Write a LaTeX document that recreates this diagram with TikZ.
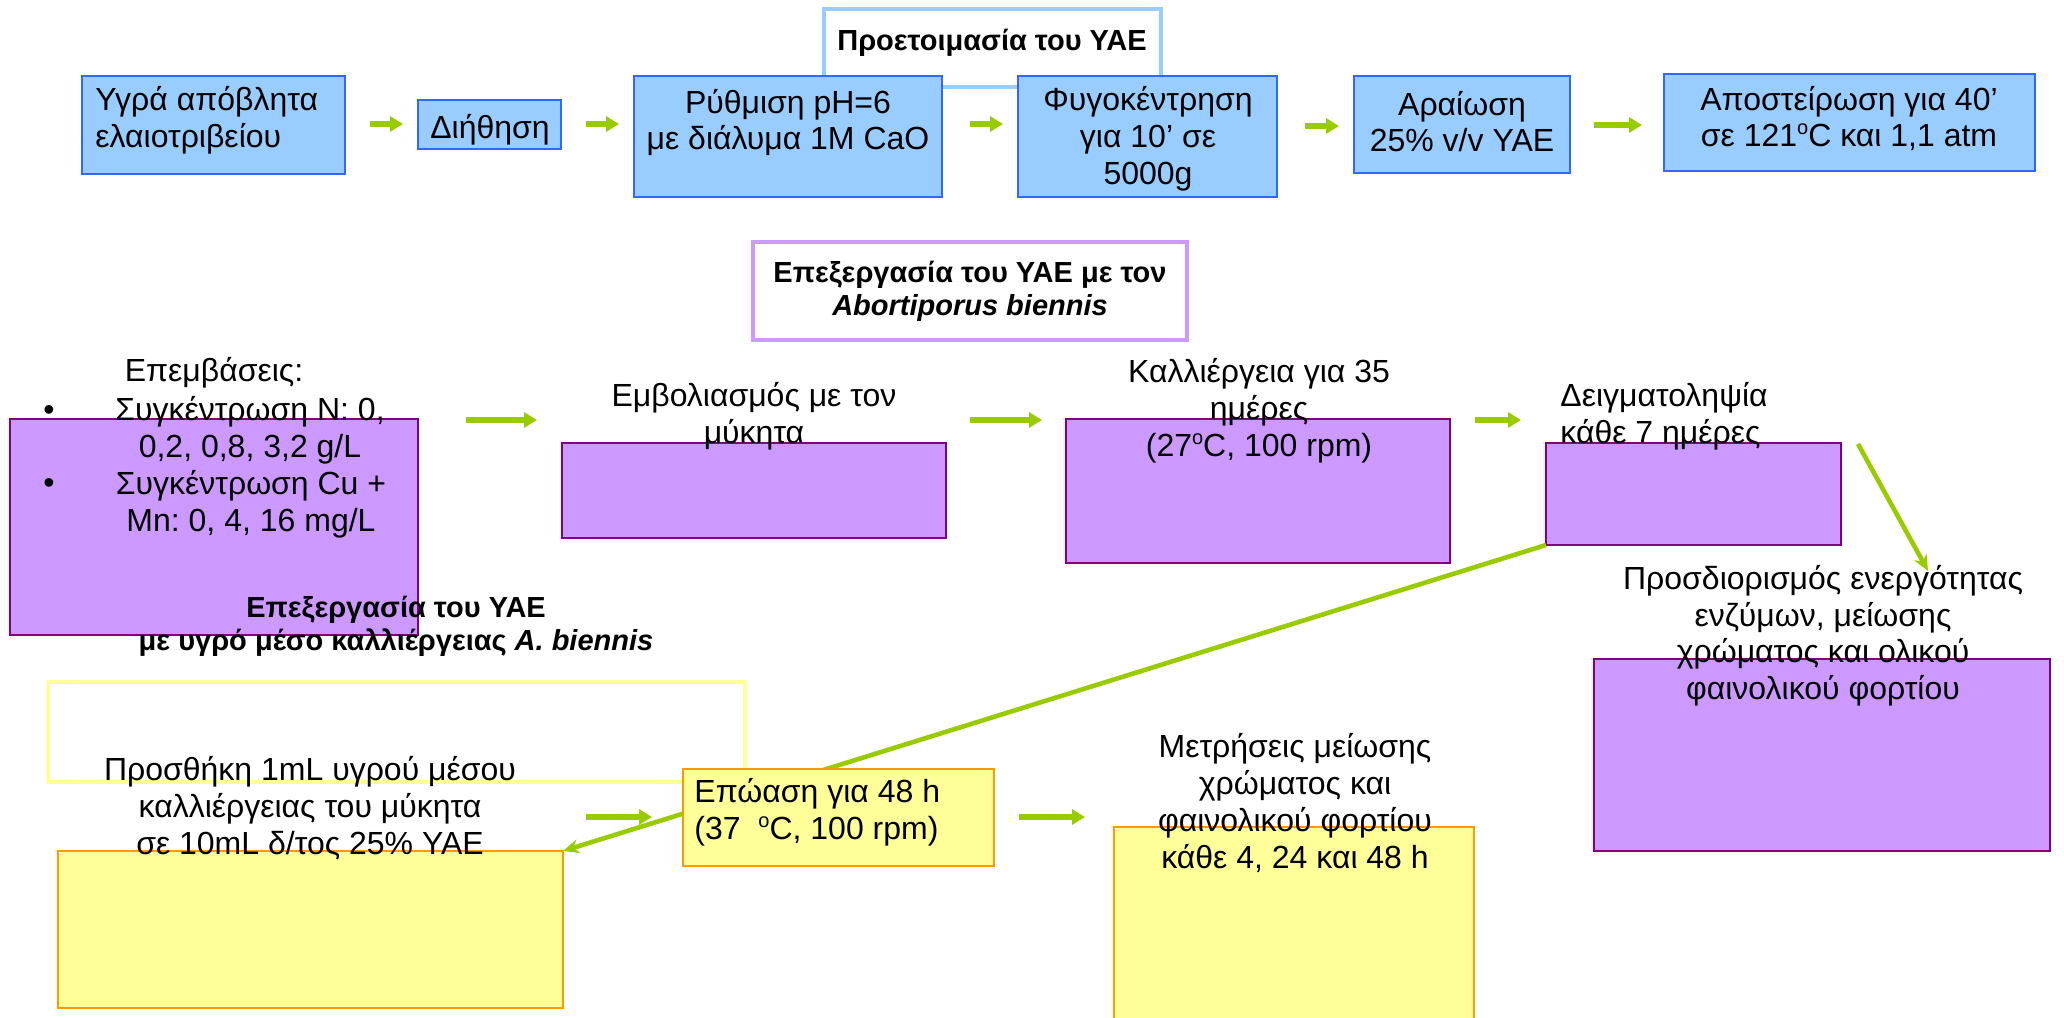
\documentclass[tikz,border=0pt]{standalone}
\usepackage{fontspec}
\setmainfont{Liberation Sans}
\usetikzlibrary{arrows.meta,fit}
\definecolor{bfill}{RGB}{153,204,255}
\definecolor{bline}{RGB}{51,102,255}
\definecolor{pfill}{RGB}{204,153,255}
\definecolor{pline}{RGB}{128,0,128}
\definecolor{yfill}{RGB}{255,255,153}
\definecolor{yline}{RGB}{255,153,0}
\definecolor{tyline}{RGB}{255,255,153}
\definecolor{tbline}{RGB}{153,204,255}
\definecolor{tpline}{RGB}{204,153,255}
\definecolor{agreen}{RGB}{153,204,0}
\newcommand{\dego}{\raisebox{0.38em}{\fontsize{10}{10}\selectfont o}}
\frenchspacing
\begin{document}
\begin{tikzpicture}[x=0.5pt,y=-0.5pt,
  box/.style={inner sep=0pt, outer sep=0pt, line width=1pt},
  bluebox/.style={box, draw=bline, fill=bfill},
  purplebox/.style={box, draw=pline, fill=pfill},
  yellowbox/.style={box, draw=yline, fill=yfill},
  titlebox/.style={inner sep=0pt, outer sep=0pt, line width=2pt, fill=white},
  body/.style={inner sep=0pt, font=\frenchspacing\fontsize{16}{18.4}\selectfont, align=center},
  ttl/.style={inner sep=0pt, font=\frenchspacing\bfseries\fontsize{14.5}{16.7}\selectfont, align=center},
  sarrow/.style={draw=agreen, line width=2.6pt, -{Triangle[length=6.5pt,width=7.5pt]}},
  darrow/.style={draw=agreen, line width=2.3pt, -{Stealth[length=8pt,width=7pt]}},
]
\useasboundingbox (0,0) rectangle (2064,1017);
\clip (0,0) rectangle (2064,1017);

% top row
\node[titlebox, draw=tbline, fit={(824,9) (1161,87)}] (T1) {};
\node[bluebox, fit={(82,76) (345,174)}] (A1) {};
\node[bluebox, fit={(418,100) (561,149)}] (A2) {};
\node[bluebox, fit={(634,76) (942,197)}] (A3) {};
\node[bluebox, fit={(1018,76) (1277,197)}] (A4) {};
\node[bluebox, fit={(1354,76) (1570,173)}] (A5) {};
\node[bluebox, fit={(1664,74) (2035,171)}] (A6) {};

% titles of lower sections
\node[titlebox, draw=tpline, fit={(753,242) (1187,340)}] (T2) {};
\node[titlebox, draw=tyline, fit={(48,682) (745,782)}] (T3) {};

% purple row
\node[purplebox, fit={(10,419) (418,635)}] (P1) {};
\node[purplebox, fit={(562,443) (946,538)}] (P2) {};
\node[purplebox, fit={(1066,419) (1450,563)}] (P3) {};
\node[purplebox, fit={(1546,443) (1841,545)}] (P4) {};
\node[purplebox, fit={(1594,659) (2050,851)}] (P5) {};

% yellow row
\node[yellowbox, fit={(58,851) (563,1008)}] (Y1) {};
\node[yellowbox, fit={(1114,827) (1474,1030)}] (Y3) {};
\draw[darrow] (P4.south west) -- (Y1.north east);
\node[yellowbox, fit={(683,769) (994,866)}] (Y2) {};

\coordinate (d1s) at (1858,444);
\coordinate (d1e) at (1928,571);
\draw[darrow] (d1s) -- (d1e);

% short arrows
\coordinate (a1s) at (370,124);  \coordinate (a1e) at (403,124);
\coordinate (a2s) at (586,124);  \coordinate (a2e) at (619,124);
\coordinate (a3s) at (970,124);  \coordinate (a3e) at (1003,124);
\coordinate (a4s) at (1305,126); \coordinate (a4e) at (1339,126);
\coordinate (a5s) at (1594,125); \coordinate (a5e) at (1642,125);
\coordinate (p1s) at (466,420);  \coordinate (p1e) at (537,420);
\coordinate (p2s) at (970,420);  \coordinate (p2e) at (1042,420);
\coordinate (p3s) at (1475,420); \coordinate (p3e) at (1521,420);
\coordinate (y1s) at (586,817);  \coordinate (y1e) at (652,817);
\coordinate (y2s) at (1019,817); \coordinate (y2e) at (1085,817);
\foreach \s/\e in {a1s/a1e,a2s/a2e,a3s/a3e,a4s/a4e,a5s/a5e,p1s/p1e,p2s/p2e,p3s/p3e,y1s/y1e,y2s/y2e}
  \draw[sarrow] (\s) -- (\e);

% texts
\node[ttl] (tT1) at (992,43) {Προετοιμασία του ΥΑΕ};
\node[body, align=left, anchor=west] (tA1) at (95,120.5) {Υγρά απόβλητα\\ελαιοτριβείου};
\node[body] (tA2) at (490,130) {Διήθηση};
\node[body] (tA3) at (788,122.5) {Ρύθμιση pH=6\\με διάλυμα 1M CaO};
\node[body] (tA4) at (1148,138.7) {Φυγοκέντρηση\\για 10’ σε\\5000g};
\node[body] (tA5) at (1462,121.5) {Αραίωση\\25\% v/v ΥΑΕ};
\node[body] (tA6) at (1849,118.5) {Αποστείρωση για 40’\\σε 121\dego C και 1,1 atm};

\node[ttl] (tT2) at (970,291.5) {Επεξεργασία του ΥΑΕ με τον\\\textit{Abortiporus biennis}};

\node[body] (tP1) at (214,373) {Επεμβάσεις:};
\node[body] (bul1) at (49,413) {•};
\node[body] (bul2) at (49,486) {•};
\node[body] (tB1) at (250,430.5) {Συγκέντρωση Ν: 0,\\0,2, 0,8, 3,2 g/L};
\node[body] (tB2) at (251,504) {Συγκέντρωση Cu +\\Mn: 0, 4, 16 mg/L};
\node[body] (tP2) at (754,416.5) {Εμβολιασμός με τον\\μύκητα};
\node[body] (tP3) at (1259,410.7) {Καλλιέργεια για 35\\ημέρες\\(27\dego C, 100 rpm)};
\node[body, align=left, anchor=west] (tP4) at (1560,416.5) {Δειγματοληψία\\κάθε 7 ημέρες};
\node[body] (tP5) at (1823,635.75) {Προσδιορισμός ενεργότητας\\ενζύμων, μείωσης\\χρώματος και ολικού\\φαινολικού φορτίου};

\node[ttl] (tT3) at (396,626.5) {Επεξεργασία του ΥΑΕ\\με υγρό μέσο καλλιέργειας \textit{A. biennis}};
\node[body] (tY1) at (310,808.3) {Προσθήκη 1mL υγρού μέσου\\καλλιέργειας του μύκητα\\σε 10mL δ/τος 25\% ΥΑΕ};
\node[body, align=left, anchor=west] (tY2) at (694,812.5) {Επώαση για 48 h\\(37~~\dego C, 100 rpm)};
\node[body] (tY3) at (1295,803) {Μετρήσεις μείωσης\\χρώματος και\\φαινολικού φορτίου\\κάθε 4, 24 και 48 h};
\end{tikzpicture}
\end{document}
